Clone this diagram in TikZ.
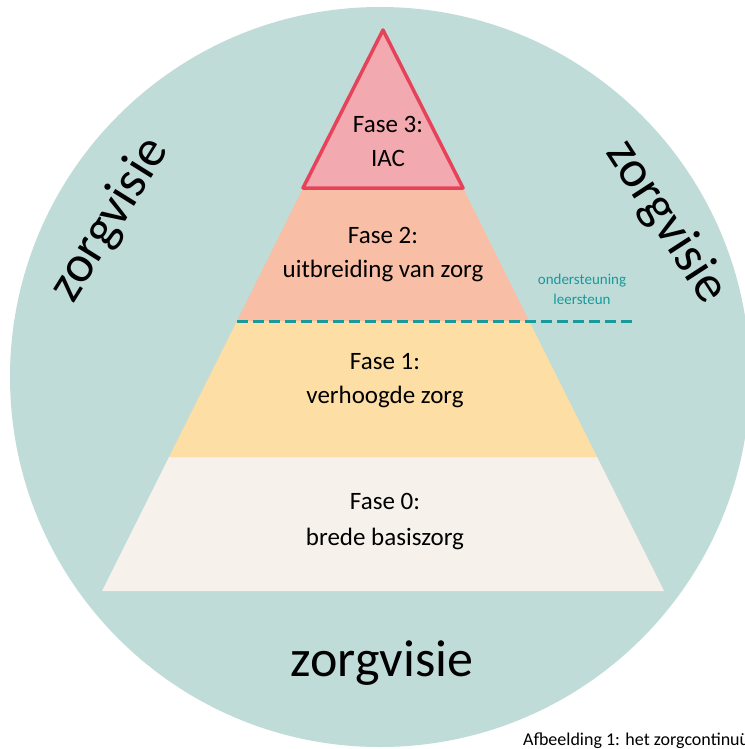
\documentclass[tikz,border=0pt]{standalone}
\usepackage{fontspec}
\setmainfont{Carlito}
\definecolor{visie}{HTML}{BFDCD9}
\definecolor{fasedrie}{HTML}{F2A9AF}
\definecolor{faserand}{HTML}{E6435B}
\definecolor{fasetwee}{HTML}{F9BFA6}
\definecolor{faseeen}{HTML}{FDDFA6}
\definecolor{fasenul}{HTML}{F6F1EA}
\definecolor{steun}{HTML}{18999A}
\tikzset{
  faselabel/.style={font=\fontsize{25}{28}\selectfont, align=center, inner sep=0pt},
  visielabel/.style={font=\fontsize{52}{56}\selectfont, inner sep=0pt},
  steunlabel/.style={font=\fontsize{15}{18}\selectfont, text=steun, inner sep=0pt}
}
\begin{document}
\begin{tikzpicture}[x=1pt, y=-1pt]
      \useasboundingbox (0, 0) rectangle (744, 749);
      \fill [white] (0, 0) rectangle (744, 749);
      \fill [visie] (380, 377) circle (370);

      % lagen van de piramide
      \fill [fasenul] (169, 457) -- (597, 457) -- (664, 591) -- (102, 591) -- cycle;
      \fill [faseeen] (237, 321) -- (529, 321) -- (597, 457) -- (169, 457) -- cycle;
      \fill [fasetwee] (303, 188) -- (463, 188) -- (529, 321) -- (237, 321) -- cycle;
      \draw [faserand, fill=fasedrie, line width=3.5pt, line join=round] (383, 30) -- (463, 188) -- (303, 188) -- cycle;

      \coordinate (d1) at (237, 321);
      \coordinate (d2) at (633, 321);
      \draw [steun, line width=3pt, dash pattern=on 11pt off 5pt] (d1) -- (d2);

      \node [faselabel] (f3) at (388, 141) {Fase 3:\\[6pt]IAC};
      \node [faselabel] (f2) at (383, 255) {Fase 2:\\[6pt]uitbreiding van zorg};
      \node [faselabel] (f1) at (385, 381) {Fase 1:\\[6pt]verhoogde zorg};
      \node [faselabel] (f0) at (385, 522) {Fase 0:\\[8pt]brede basiszorg};

      \node [steunlabel] (s1) at (582, 281) {ondersteuning};
      \node [steunlabel] (s2) at (582, 299) {leersteun};

      \node [visielabel, rotate=58] (vl) at (110, 220) {zorgvisie};
      \node [visielabel, rotate=-57] (vr) at (666, 222) {zorgvisie};
      \node [visielabel] (vb) at (382, 663) {zorgvisie};

      \node [anchor=base west, font=\fontsize{18}{21}\selectfont, inner sep=0pt] (cap) at (523, 745) {Afbeelding 1: het zorgcontinuüm};
    \end{tikzpicture}
\end{document}
